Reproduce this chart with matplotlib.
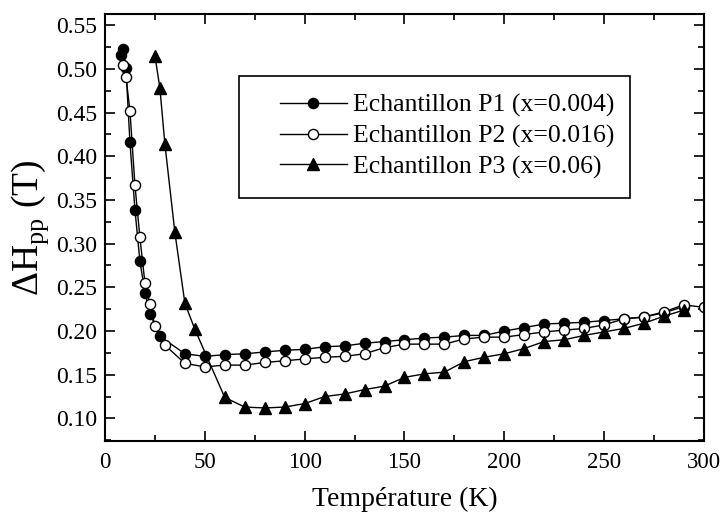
import matplotlib
matplotlib.use("Agg")
import matplotlib.pyplot as plt
from matplotlib.patches import Rectangle
from matplotlib.ticker import MultipleLocator, FormatStrFormatter
from matplotlib.transforms import ScaledTranslation

plt.rcParams["font.family"] = ["Liberation Serif", "DejaVu Serif"]
plt.rcParams["mathtext.fontset"] = "custom"
plt.rcParams["mathtext.rm"] = "Liberation Serif"

# Echantillon P1 (x=0.004), filled circles
t_p1 = [8, 9, 10.5, 12.5, 15, 17.5, 20, 22.5, 27.5, 40, 50, 60, 70, 80, 90, 100,
        110, 120, 130, 140, 150, 160, 170, 180, 190, 200, 210, 220, 230, 240,
        250, 260, 270, 280, 290]
dh_p1 = [0.516, 0.523, 0.501, 0.416, 0.339, 0.280, 0.244, 0.220, 0.194, 0.174,
         0.171, 0.173, 0.174, 0.176, 0.178, 0.179, 0.182, 0.183, 0.186, 0.188,
         0.190, 0.192, 0.193, 0.195, 0.195, 0.200, 0.204, 0.208, 0.209, 0.210,
         0.212, 0.214, 0.216, 0.221, 0.228]

# Echantillon P2 (x=0.016), open circles
t_p2 = [9, 10.5, 12.5, 15, 17.5, 20, 22.5, 25, 30, 40, 50, 60, 70, 80, 90, 100,
        110, 120, 130, 140, 150, 160, 170, 180, 190, 200, 210, 220, 230, 240,
        250, 260, 270, 280, 290, 300]
dh_p2 = [0.504, 0.491, 0.452, 0.367, 0.307, 0.255, 0.231, 0.206, 0.184, 0.163,
         0.159, 0.161, 0.161, 0.164, 0.166, 0.168, 0.170, 0.171, 0.174, 0.181,
         0.185, 0.185, 0.185, 0.191, 0.193, 0.193, 0.196, 0.199, 0.201, 0.203,
         0.207, 0.214, 0.216, 0.222, 0.230, 0.227]

# Echantillon P3 (x=0.06), filled triangles
t_p3 = [25, 27.5, 30, 35, 40, 45, 60, 70, 80, 90, 100, 110, 120, 130, 140, 150,
        160, 170, 180, 190, 200, 210, 220, 230, 240, 250, 260, 270, 280, 290]
dh_p3 = [0.515, 0.478, 0.414, 0.313, 0.232, 0.202, 0.124, 0.113, 0.112, 0.113,
         0.117, 0.125, 0.128, 0.133, 0.137, 0.147, 0.151, 0.153, 0.165, 0.170,
         0.174, 0.180, 0.188, 0.190, 0.195, 0.199, 0.203, 0.209, 0.217, 0.224]

labels = ["Echantillon P1 (x=0.004)", "Echantillon P2 (x=0.016)",
          "Echantillon P3 (x=0.06)"]

fig = plt.figure(figsize=(7.2, 5.22), dpi=100)
ax = fig.add_axes([0.1458, 0.1557, 0.8320, 0.8175])

ax.plot(t_p1, dh_p1, "-o", color="black", lw=1, ms=7.3, mfc="black",
        mec="black", label=labels[0])
ax.plot(t_p2, dh_p2, "-o", color="black", lw=1, ms=7.3, mfc="white",
        mec="black", mew=1, label=labels[1])
ax.plot(t_p3, dh_p3, "-^", color="black", lw=1, ms=8.5, mfc="black",
        mec="black", label=labels[2])

ax.set_xlim(0, 300)
ax.set_ylim(0.0745, 0.5627)
ax.xaxis.set_major_locator(MultipleLocator(50))
ax.xaxis.set_minor_locator(MultipleLocator(25))
ax.yaxis.set_major_locator(MultipleLocator(0.05))
ax.yaxis.set_minor_locator(MultipleLocator(0.025))
ax.yaxis.set_major_formatter(FormatStrFormatter("%.2f"))
ax.tick_params(which="both", direction="in", top=True, right=True,
               labelsize=17, width=1.2)
ax.tick_params(which="major", length=7)
ax.tick_params(which="minor", length=4)
ax.tick_params(axis="x", which="major", pad=8, labelsize=16.5)
ax.tick_params(axis="y", which="major", pad=5.5)
for s in ax.spines.values():
    s.set_linewidth(1.5)

# last x label sits a bit left of its tick so it stays inside the image
fig.canvas.draw()
last = ax.get_xticklabels()[-1]
last.set_transform(last.get_transform() + ScaledTranslation(-5 / 72, 0, fig.dpi_scale_trans))

ax.set_xlabel("Température (K)", fontsize=20, labelpad=10)
ax.set_ylabel(r"ΔH$_{\mathrm{pp}}$ (T)", fontsize=27, labelpad=4)

# legend box drawn separately so the inner padding matches the original
ax.add_patch(Rectangle((0.2237, 0.5688), 0.6528, 0.2859, transform=ax.transAxes,
                       fill=False, edgecolor="black", lw=1.2, zorder=5))
leg = ax.legend(loc="upper left", bbox_to_anchor=(0.2922, 0.8126), fontsize=18.5,
                frameon=False, borderpad=0, borderaxespad=0,
                handlelength=2.6, handletextpad=0.25, labelspacing=0.28)

fig.savefig("out.png", dpi=100)
